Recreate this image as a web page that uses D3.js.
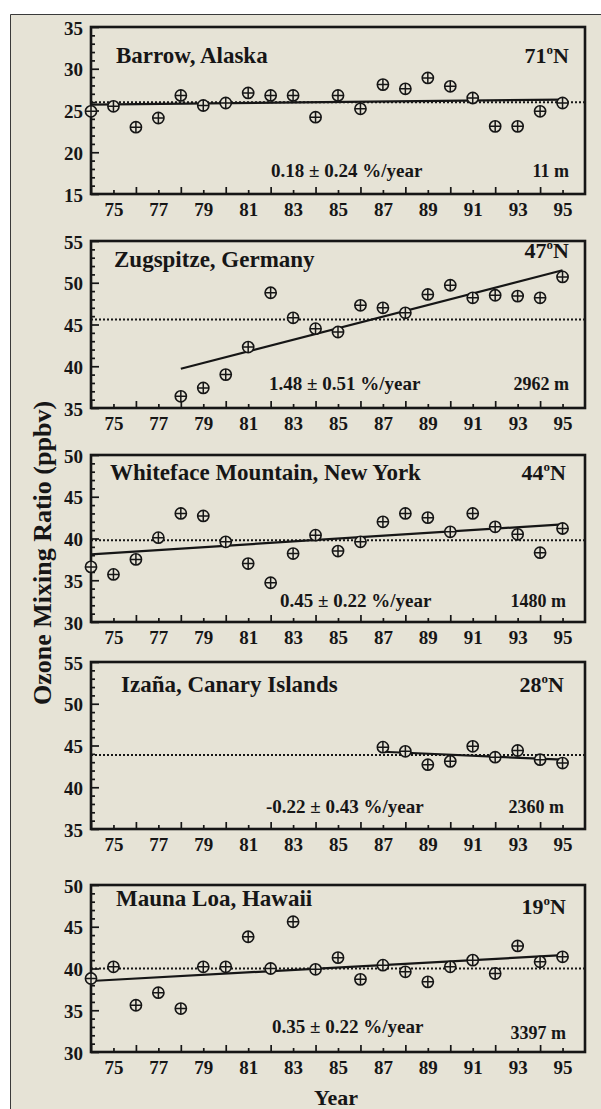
<!DOCTYPE html>
<html>
<head>
<meta charset="utf-8">
<script src="https://cdn.jsdelivr.net/npm/d3@7"></script>
<style>
  html, body { margin: 0; padding: 0; background: #fff; }
  svg { display: block; }
  text { font-family: "Liberation Serif", "Times New Roman", serif; font-weight: bold; fill: #161616; }
</style>
</head>
<body>
<div id="chart"></div>
<script>
// ---- data ----
const yearsFull = [74, 75, 76, 77, 78, 79, 80, 81, 82, 83, 84, 85, 86, 87, 88, 89, 90, 91, 92, 93, 94, 95];
const yearsZugspitze = [78, 79, 80, 81, 82, 83, 84, 85, 86, 87, 88, 89, 90, 91, 92, 93, 94, 95];
const yearsIzana = [87, 88, 89, 90, 91, 92, 93, 94, 95];

const barrow = [24.9, 25.5, 23.0, 24.1, 26.8, 25.6, 25.9, 27.1, 26.8, 26.8, 24.2, 26.8,
                25.2, 28.1, 27.6, 28.9, 27.9, 26.5, 23.1, 23.1, 24.9, 25.9];
const zugspitze = [36.4, 37.4, 39.0, 42.3, 48.8, 45.8, 44.5, 44.1, 47.3, 47.0, 46.4, 48.6,
                   49.7, 48.2, 48.5, 48.4, 48.2, 50.7];
const whiteface = [36.6, 35.7, 37.5, 40.1, 43.0, 42.7, 39.6, 37.0, 34.7, 38.2, 40.4, 38.5,
                   39.6, 42.0, 43.0, 42.5, 40.8, 43.0, 41.4, 40.5, 38.3, 41.2];
const izana = [44.8, 44.3, 42.7, 43.1, 44.9, 43.6, 44.4, 43.3, 42.9];
const maunaLoa = [38.8, 40.2, 35.6, 37.1, 35.2, 40.2, 40.2, 43.8, 40.0, 45.6, 39.9, 41.3,
                  38.7, 40.4, 39.6, 38.4, 40.2, 41.0, 39.4, 42.7, 40.8, 41.4];

const stations = ["Barrow, Alaska", "Zugspitze, Germany", "Whiteface Mountain, New York",
                  "Izaña, Canary Islands", "Mauna Loa, Hawaii"];
const latitudes = ["71", "47", "44", "28", "19"];
const altitudes = ["11 m", "2962 m", "1480 m", "2360 m", "3397 m"];
const trendTexts = ["0.18 ± 0.24 %/year", "1.48 ± 0.51 %/year", "0.45 ± 0.22 %/year",
                    "-0.22 ± 0.43 %/year", "0.35 ± 0.22 %/year"];
const yDomains = [[15, 35], [35, 55], [30, 50], [35, 55], [30, 50]];
// fitted trend: [startYear, startValue, endYear, endValue]
const trends = [[74, 25.7, 95, 26.3], [78, 39.7, 95, 51.5], [74, 38.1, 95, 41.7],
                [87, 44.25, 95, 43.3], [74, 38.5, 95, 41.6]];
const means = [26.0, 45.6, 39.8, 43.85, 40.0];
const xLabelYears = [75, 77, 79, 81, 83, 85, 87, 89, 91, 93, 95];
const xMinorYears = [74, 76, 78, 80, 82, 84, 86, 88, 90, 92, 94];

const seriesYears = [yearsFull, yearsZugspitze, yearsFull, yearsIzana, yearsFull];
const seriesValues = [barrow, zugspitze, whiteface, izana, maunaLoa];

// ---- layout ----
const W = 601, H = 1109;
const plotLeft = 91, plotRight = 585, plotH = 167;
const panelTops = [27, 241, 455, 662, 885];
// per panel text offsets from the top of the frame: [title, latitude, trend text, altitude]
const textOffsets = [[36, 36, 150, 150], [26, 17, 149, 149], [25, 25, 152, 152],
                     [30, 30, 151, 151], [21, 29, 148, 154]];
const titleX = [116, 114, 110, 121, 116];
const trendX = [271, 269, 280, 266, 272];
const rightTextX = [569, 569, 566, 564, 566];
const paper = "#e6e3d6", ink = "#161616";

const svg = d3.select("#chart").append("svg")
  .attr("width", W).attr("height", H);

svg.append("rect").attr("x", 10).attr("y", 14).attr("width", W - 10).attr("height", H - 14)
  .attr("fill", paper);
svg.append("path").attr("d", `M10.5,${H}V14.5H${W}`)
  .attr("fill", "none").attr("stroke", "#3a3a3a").attr("stroke-width", 1);

const x = d3.scaleLinear().domain([74, 96]).range([plotLeft, plotRight]);

stations.forEach((name, i) => {
  const top = panelTops[i];
  const y = d3.scaleLinear().domain(yDomains[i]).range([top + plotH, top]);
  const g = svg.append("g");
  const [lo, hi] = yDomains[i];
  const majors = d3.range(lo, hi + 0.1, 5);
  const minors = d3.range(lo, hi + 0.1, 1).filter(v => v % 5 !== 0);

  // y axis: inward ticks
  const yMinor = g.append("g").attr("transform", `translate(${plotLeft},0)`)
    .call(d3.axisLeft(y).tickValues(minors).tickSize(-4).tickFormat(""));
  const yMajor = g.append("g").attr("transform", `translate(${plotLeft},0)`)
    .call(d3.axisLeft(y).tickValues(majors).tickSize(-8).tickPadding(8).tickFormat(d3.format("d")));
  yMajor.selectAll("text").attr("font-size", 19).attr("dy", "0.38em");

  // x axis: inward ticks
  const xMinor = g.append("g").attr("transform", `translate(0,${top + plotH})`)
    .call(d3.axisBottom(x).tickValues(xMinorYears).tickSize(-7).tickFormat(""));
  const xMajor = g.append("g").attr("transform", `translate(0,${top + plotH})`)
    .call(d3.axisBottom(x).tickValues(xLabelYears).tickSize(-4).tickPadding(9).tickFormat(d3.format("d")));
  xMajor.selectAll("text").attr("font-size", 19);

  [yMinor, yMajor, xMinor, xMajor].forEach(a => {
    a.select(".domain").remove();
    a.selectAll("line").attr("stroke", ink).attr("stroke-width", 1.7);
    a.selectAll("text").attr("fill", ink).attr("font-family", null);
  });

  // frame
  g.append("rect").attr("x", plotLeft).attr("y", top)
    .attr("width", plotRight - plotLeft).attr("height", plotH)
    .attr("fill", "none").attr("stroke", ink).attr("stroke-width", 2.6);

  // mean (dotted)
  g.append("line")
    .attr("x1", plotLeft).attr("x2", plotRight)
    .attr("y1", y(means[i])).attr("y2", y(means[i]))
    .attr("stroke", ink).attr("stroke-width", 2).attr("stroke-dasharray", "2,2");

  // trend (solid)
  const t = trends[i];
  g.append("line")
    .attr("x1", x(t[0])).attr("y1", y(t[1]))
    .attr("x2", x(t[2])).attr("y2", y(t[3]))
    .attr("stroke", ink).attr("stroke-width", 2.2);

  // markers: circle with a cross
  const pts = seriesYears[i].map((yr, k) => [yr, seriesValues[i][k]]);
  const m = g.selectAll("g.mk").data(pts).join("g").attr("class", "mk")
    .attr("transform", d => `translate(${x(d[0])},${y(d[1])})`);
  m.append("circle").attr("r", 5.6).attr("fill", paper)
    .attr("stroke", ink).attr("stroke-width", 1.6);
  m.append("path").attr("d", "M-5.6,0H5.6M0,-5.6V5.6")
    .attr("stroke", ink).attr("stroke-width", 1.5);

  // texts
  const off = textOffsets[i];
  g.append("text").attr("x", titleX[i]).attr("y", top + off[0])
    .attr("font-size", 23).text(name);
  const lat = g.append("text").attr("x", rightTextX[i]).attr("y", top + off[1])
    .attr("font-size", 22).attr("text-anchor", "end");
  lat.append("tspan").text(latitudes[i]);
  lat.append("tspan").attr("font-size", 13).attr("dy", -9).text("o");
  lat.append("tspan").attr("dy", 9).text("N");
  g.append("text").attr("x", trendX[i]).attr("y", top + off[2])
    .attr("font-size", 19).text(trendTexts[i]);
  g.append("text").attr("x", rightTextX[i]).attr("y", top + off[3])
    .attr("font-size", 18).attr("text-anchor", "end").text(altitudes[i]);
});

// axis titles
svg.append("text").attr("x", 336).attr("y", 1105)
  .attr("text-anchor", "middle").attr("font-size", 22).text("Year");
svg.append("text")
  .attr("transform", `translate(51,${553}) rotate(-90)`)
  .attr("text-anchor", "middle").attr("font-size", 26)
  .text("Ozone Mixing Ratio (ppbv)");
</script>
</body>
</html>
